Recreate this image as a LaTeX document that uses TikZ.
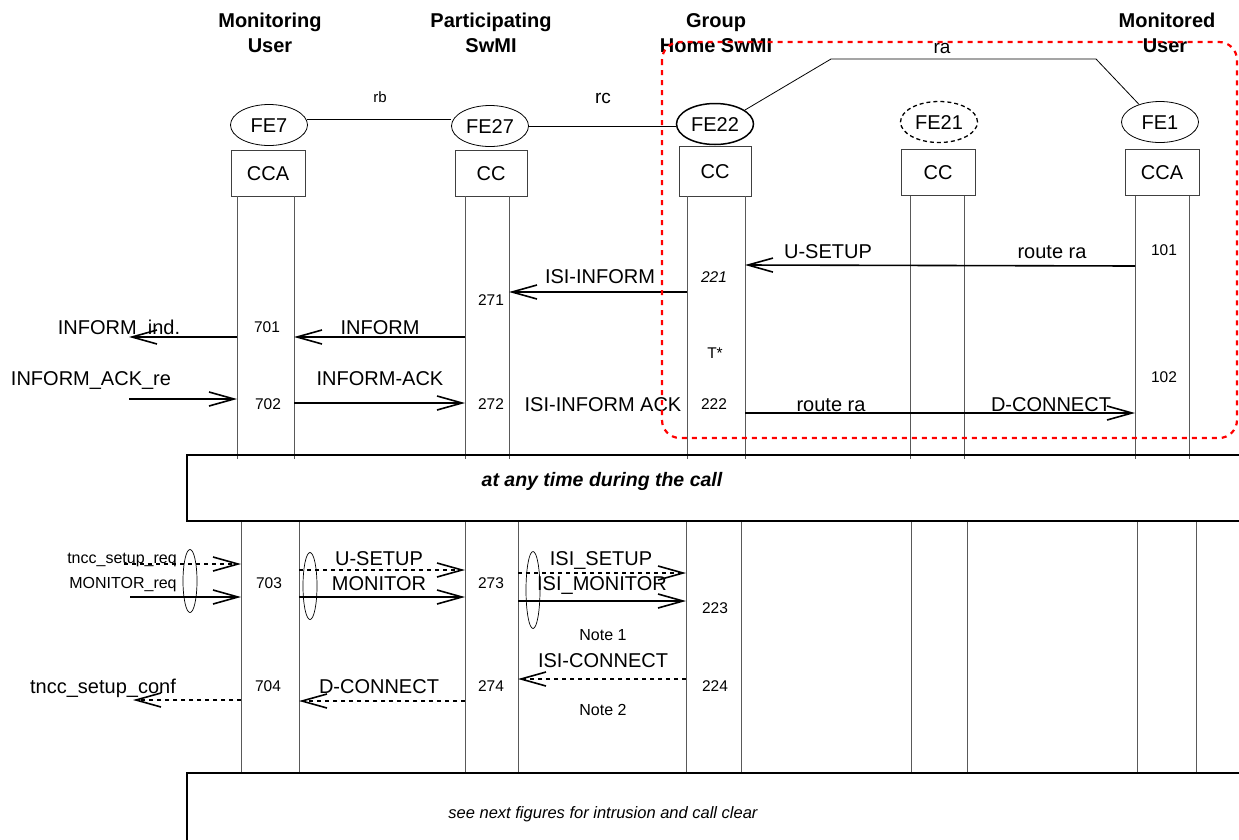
\documentclass[tikz,border=0pt]{standalone}
\usepackage{fontspec}
\setmainfont{Liberation Sans}
\usetikzlibrary{arrows.meta,shapes.geometric}
\tikzset{
  lab/.style={inner sep=0pt, font=\fontsize{20}{24}\selectfont, text height=14.4pt, text depth=0pt},
  hdr/.style={inner sep=0pt, font=\bfseries\fontsize{20}{24}\selectfont, text height=14.4pt, text depth=0pt},
  num/.style={inner sep=0pt, font=\fontsize{15.5}{18}\selectfont, text height=11.1pt, text depth=0pt},
  sml/.style={inner sep=0pt, font=\fontsize{16}{19}\selectfont, text height=11.5pt, text depth=0pt},
  fe/.style={draw, ellipse, minimum width=77pt, minimum height=41pt, inner sep=0pt, line width=0.8pt,
             font=\fontsize{20}{24}\selectfont, text height=14.4pt, text depth=0pt},
  fb/.style={draw=black!75, minimum height=46pt, minimum width=74pt, inner sep=0pt, line width=0.9pt,
             font=\fontsize{20}{24}\selectfont, text height=14.4pt, text depth=0pt},
  life/.style={draw=black!65, line width=0.9pt},
  iface/.style={draw, line width=0.8pt},
  msg/.style={line width=1.6pt, -{Straight Barb[length=25pt,width=14pt]}},
  dmsg/.style={msg, dash pattern=on 4pt off 4pt},
  redbox/.style={draw=red, line width=2.2pt, dash pattern=on 5pt off 5pt, rounded corners=18pt},
  grp/.style={draw, ellipse, minimum width=14pt, inner sep=0pt, line width=0.7pt},
  band/.style={draw, line width=1.8pt}
}
\begin{document}
\begin{tikzpicture}[x=1pt,y=-1pt]
\useasboundingbox (0,0) rectangle (1239,839);
\clip (0,0) rectangle (1239,839);

% headers
\node[hdr] (h1a) at (270,20) {Monitoring};
\node[hdr] (h1b) at (270,45) {User};
\node[hdr] (h2a) at (491,20) {Participating};
\node[hdr] (h2b) at (491,45) {SwMI};
\node[hdr] (h3a) at (716,20) {Group};
\node[hdr] (h3b) at (716,45) {Home SwMI};
\node[hdr] (h4a) at (1167,20) {Monitored};
\node[hdr] (h4b) at (1165,45) {User};

% functional entities
\node[fe] (FE7) at (269,125) {FE7};
\node[fe] (FE27) at (490,126) {FE27};
\node[fe, line width=1.5pt] (FE22) at (715,124) {FE22};
\node[fe, line width=1.3pt, dash pattern=on 4pt off 3pt] (FE21) at (939,122) {FE21};
\node[fe] (FE1) at (1160,122) {FE1};

\node[fb] (CCA7) at (268,173) {CCA};
\node[fb, minimum width=72pt] (CC27) at (491,173) {CC};
\node[fb, minimum width=72pt, minimum height=50pt] (CC22) at (715,171) {CC};
\node[fb] (CC21) at (938,172.5) {CC};
\node[fb] (CCA1) at (1162,172.5) {CCA};

% interfaces
\draw[iface] (FE7.8) -- (FE7.8 -| FE27.west);
\node[inner sep=0pt, font=\fontsize{15}{18}\selectfont, text height=10.8pt, text depth=0pt] (rb) at (380,97) {rb};
\draw[iface] (FE27.east) -- (FE27.east -| FE22.west);
\node[inner sep=0pt, font=\fontsize{19}{22}\selectfont, text height=13.6pt, text depth=0pt] (rc) at (603,97) {rc};
\coordinate (raA) at (831,59);
\coordinate (raB) at (1096,59);
\draw[iface] (FE22.25) -- (raA) -- (raB) -- (FE1.140);
\node[inner sep=0pt, font=\fontsize{19}{22}\selectfont, text height=13.6pt, text depth=0pt] (ra) at (942,47) {ra};

% lifelines
\foreach \x/\n in {237/t1a,294/t1b,465/t2a,509/t2b,687/t3a,745/t3b,910/t4a,964/t4b,1135/t5a,1189/t5b}{
  \coordinate (\n) at (\x,196);
  \draw[life] (\n) -- ++(0,263);
}
\foreach \x/\n in {241/l1a,299/l1b,465/l2a,518/l2b,686/l3a,741/l3b,911/l4a,967/l4b,1137/l5a,1196/l5b}{
  \coordinate (\n) at (\x,521);
  \draw[life] (\n) -- ++(0,252);
}

% top messages
\draw[msg] (t5a |- 0,266) -- (t3b |- 0,265);
\node[lab] (usetup) at (828,251) {U-SETUP};
\node[lab] (route1) at (1052,251) {route ra};
\node[num] (n101) at (1164,250) {101};

\draw[msg] (t3a |- 0,292) -- (t2b |- 0,292);
\node[lab] (isiinf) at (600,276) {ISI-INFORM};
\node[num, font=\itshape\fontsize{15.5}{18}\selectfont] (n221) at (714,277) {221};
\node[num] (n271) at (491,300) {271};

\draw[msg] (t2a |- 0,337) -- (t1b |- 0,337);
\node[lab] (inform) at (380,327) {INFORM};
\node[num] (n701) at (267,327) {701};

\coordinate (envA) at (129,337);
\draw[msg] (t1a |- 0,337) -- (envA);
\node[lab] (informind) at (119,327) {INFORM\_ind.};

\node[num] (tstar) at (715,353) {T*};

\coordinate (envB) at (129,399);
\draw[msg] (envB) -- (t1a |- 0,399);
\node[lab] (informackre) at (91,378) {INFORM\_ACK\_re};

\draw[msg] (t1b |- 0,403) -- (t2a |- 0,403);
\node[lab] (informack) at (380,378) {INFORM-ACK};
\node[num] (n702) at (268,404) {702};
\node[num] (n272) at (491,404) {272};
\node[lab] (isiinfack) at (603,404) {ISI-INFORM ACK};
\node[num] (n222) at (714,404) {222};
\node[num] (n102) at (1164,377) {102};

\draw[msg] (t3b |- 0,413) -- (t5a |- 0,413);
\node[lab] (route2) at (831,404) {route ra};
\node[lab] (dconn1) at (1051,404) {D-CONNECT};

% band
\draw[band] (187,455) rectangle (1260,521);
\node[inner sep=0pt, font=\bfseries\itshape\fontsize{19.5}{23}\selectfont, text height=14pt, text depth=0pt] (anytime) at (602,479) {at any time during the call};

% lower messages
\coordinate (envC) at (124,564);
\draw[dmsg] (envC) -- (l1a |- 0,564);
\node[sml] (tsreq) at (122,558) {tncc\_setup\_req};
\coordinate (envD) at (130,597);
\draw[msg] (envD) -- (l1a |- 0,597);
\node[sml] (monreq) at (123,583) {MONITOR\_req};
\node[grp, minimum height=63pt] (g1) at (190,581) {};
\node[num] (n703) at (269,583) {703};

\draw[dmsg] (l1b |- 0,570) -- (l2a |- 0,570);
\node[lab] (usetup2) at (379,558) {U-SETUP};
\draw[msg] (l1b |- 0,597) -- (l2a |- 0,597);
\node[lab] (monitor) at (379,583) {MONITOR};
\node[grp, minimum height=67pt] (g2) at (310,586) {};
\node[num] (n273) at (491,583) {273};

\draw[dmsg] (l2b |- 0,573) -- (l3a |- 0,573);
\node[lab] (isisetup) at (601,558) {ISI\_SETUP};
\draw[msg] (l2b |- 0,601) -- (l3a |- 0,601);
\node[lab] (isimon) at (602,583) {ISI\_MONITOR};
\node[grp, minimum height=77pt] (g3) at (533,590) {};
\node[num] (n223) at (715,608) {223};
\node[sml] (note1) at (603,635) {Note 1};

\draw[dmsg] (l3a |- 0,679) -- (l2b |- 0,679);
\node[lab] (isiconn) at (603,660) {ISI-CONNECT};
\node[num] (n224) at (715,686) {224};
\node[num] (n274) at (491,686) {274};

\draw[dmsg] (l2a |- 0,701) -- (l1b |- 0,701);
\node[lab] (dconn2) at (379,686) {D-CONNECT};
\node[num] (n704) at (268,686) {704};

\coordinate (envE) at (133,700);
\draw[dmsg] (l1a |- 0,700) -- (envE);
\node[lab] (tsconf) at (103,686) {tncc\_setup\_conf};
\node[sml] (note2) at (603,710) {Note 2};

% bottom band
\draw[band] (187,773) rectangle (1260,870);
\node[inner sep=0pt, font=\itshape\fontsize{16.5}{20}\selectfont, text height=11.8pt, text depth=0pt] (seenext) at (603,813) {see next figures for intrusion and call clear};

% red dotted region
\draw[redbox] (662,42) rectangle (1237,438);
\end{tikzpicture}
\end{document}
